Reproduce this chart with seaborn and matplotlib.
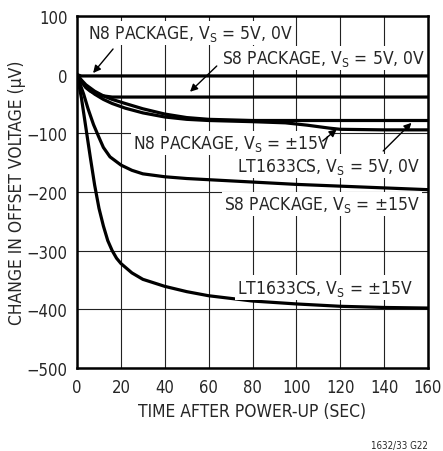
import pandas as pd
import numpy as np
import seaborn as sns
import matplotlib
matplotlib.use('Agg')
import matplotlib.pyplot as plt

# Data (time in s, offset change in uV)
N8_5V_T = [0, 1, 2, 4, 10, 40, 80, 120, 160]
N8_5V_V = [0, -1, -2, -2, -2, -2, -2, -2, -2]

S8_5V_T = [0, 2, 4, 6, 8, 10, 12, 16, 20, 40, 80, 120, 160]
S8_5V_V = [0, -12, -22, -28, -32, -35, -36, -38, -38, -38, -38, -38, -38]

LT_5V_T = [0, 2, 4, 8, 12, 16, 22, 30, 40, 50, 60, 80, 100, 120, 140, 160]
LT_5V_V = [0, -9, -17, -28, -36, -42, -49, -58, -67, -73, -76, -78, -78, -78, -78, -78]

N8_15V_T = [0, 2, 4, 8, 12, 16, 22, 30, 40, 50, 60, 80, 95, 105, 115, 120, 140, 160]
N8_15V_V = [0, -11, -20, -33, -42, -49, -57, -65, -72, -76, -78, -80, -82, -86, -91, -93, -94, -94]

S8_15V_T = [0, 1, 3, 5, 7.5, 10, 12, 15, 20, 25, 30, 40, 50, 60, 80, 100, 120, 140, 160]
S8_15V_V = [0, -12, -33, -58, -85, -107, -124, -140, -154, -163, -169, -174, -177, -179,
            -183, -187, -190, -193, -196]

LT_15V_T = [0, 2, 4, 6, 8, 10, 12, 14, 16, 18, 20, 25, 30, 40, 50, 60, 80, 100, 120, 140, 160]
LT_15V_V = [0, -40, -90, -140, -188, -228, -258, -283, -300, -313, -322, -338, -349, -361,
            -370, -377, -386, -391, -395, -397, -398]

X_TICKS = [0, 20, 40, 60, 80, 100, 120, 140, 160]
Y_TICKS = [100, 0, -100, -200, -300, -400, -500]

series = {
    'N8 5V': (N8_5V_T, N8_5V_V),
    'S8 5V': (S8_5V_T, S8_5V_V),
    'LT 5V': (LT_5V_T, LT_5V_V),
    'N8 15V': (N8_15V_T, N8_15V_V),
    'S8 15V': (S8_15V_T, S8_15V_V),
    'LT 15V': (LT_15V_T, LT_15V_V),
}

sns.set_style('white')
plt.rcParams['font.family'] = ['DejaVu Sans']
plt.rcParams['font.stretch'] = 'condensed'

fig = plt.figure(figsize=(4.43, 4.52), dpi=100)
ax = fig.add_axes([0.174, 0.184, 0.792, 0.778])

for name, (t, v) in series.items():
    df = pd.DataFrame({'t': t, 'v': v})
    sns.lineplot(data=df, x='t', y='v', ax=ax, color='black', lw=2.3, zorder=3)

ax.set_xlim(0, 160)
ax.set_ylim(-500, 100)
ax.set_xticks(X_TICKS)
ax.set_yticks(Y_TICKS)
ax.grid(True, color='#222222', lw=0.8, zorder=0)
ax.set_axisbelow(True)
for s in ax.spines.values():
    s.set_linewidth(1.8)
    s.set_color('black')
ax.tick_params(length=0, labelsize=12, pad=7)
ax.set_xlabel('TIME AFTER POWER-UP (SEC)', fontsize=12.5, labelpad=5)
ax.set_ylabel('CHANGE IN OFFSET VOLTAGE (\u03bcV)', fontsize=12.5, labelpad=0)

box = dict(facecolor='white', edgecolor='none', pad=1.5)
arrow = dict(arrowstyle='-|>', color='black', lw=1, mutation_scale=11, shrinkA=0, shrinkB=0)
VS = r'V$_\mathregular{S}$'


def label(text, xy, ha='left', va='center'):
    ax.text(xy[0], xy[1], text, ha=ha, va=va, fontsize=12.5, bbox=box, zorder=4)


label('N8 PACKAGE, ' + VS + ' = 5V, 0V', (5, 71))
ax.annotate('', xy=(7.3, 3), xytext=(16.4, 44), arrowprops=arrow, zorder=5)

label('S8 PACKAGE, ' + VS + ' = 5V, 0V', (66, 29))
ax.annotate('', xy=(51.5, -29), xytext=(63.7, 15), arrowprops=arrow, zorder=5)

label('N8 PACKAGE, ' + VS + ' = \u00b115V', (25.7, -116))
ax.annotate('', xy=(118.4, -93), xytext=(112, -113), arrowprops=arrow, zorder=5)

label('LT1633CS, ' + VS + ' = 5V, 0V', (156.3, -155), ha='right')
ax.annotate('', xy=(152.5, -82), xytext=(139.6, -130), arrowprops=arrow, zorder=5)

label('S8 PACKAGE, ' + VS + ' = \u00b115V', (156.3, -221), ha='right')
label('LT1633CS, ' + VS + ' = \u00b115V', (153, -363), ha='right')

fig.text(0.966, 0.013, '1632/33 G22', ha='right', va='center', fontsize=7)

fig.savefig('out.png', dpi=100)
